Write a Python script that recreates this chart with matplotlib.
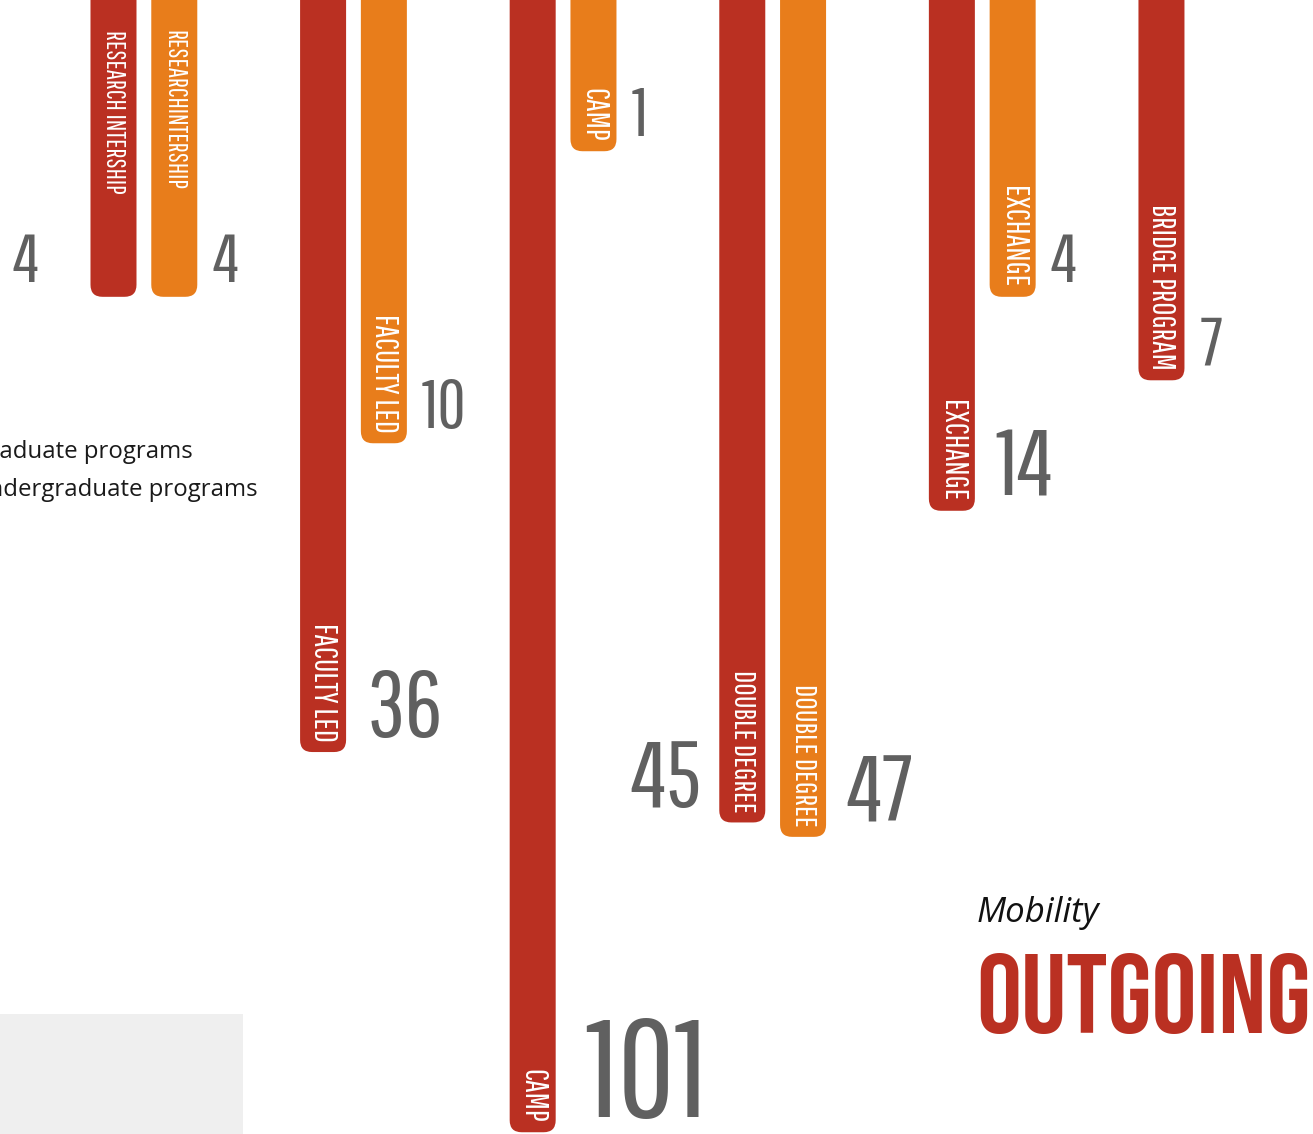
import numpy as np
import matplotlib
matplotlib.use("Agg")
import matplotlib.pyplot as plt
from matplotlib import font_manager as fm
from matplotlib.patches import FancyBboxPatch, Rectangle
from matplotlib.transforms import IdentityTransform

# ---- data -------------------------------------------------------------
programs = ["RESEARCH INTERSHIP", "FACULTY LED", "CAMP",
            "DOUBLE DEGREE", "EXCHANGE", "BRIDGE PROGRAM"]
graduate_labels = ["RESEARCH INTERSHIP", "FACULTY LED", "CAMP",
                   "DOUBLE DEGREE", "EXCHANGE", "BRIDGE PROGRAM"]
undergraduate_labels = ["RESEARCHINTERSHIP", "FACULTY LED", "CAMP",
                        "DOUBLE DEGREE", "EXCHANGE", None]
graduate = [4, 36, 101, 45, 14, 7]
undergraduate = [4, 10, 1, 47, 4, None]
legend_labels = ["Graduate programs", "Undergraduate programs"]

# ---- style ------------------------------------------------------------
RED = "#BA3022"
ORANGE = "#E87D1B"
GREY = "#606060"

available = {f.name for f in fm.fontManager.ttflist}


def pick(*names):
    for n in names:
        if n in available:
            return n
    return "DejaVu Sans"


THIN = pick("Pathway Gothic One", "League Gothic", "Oswald", "Antonio",
            "Roboto Condensed", "Liberation Sans Narrow")
HEAVY = pick("Bebas Neue", "Oswald", "League Gothic", "Anton",
             "Roboto Condensed", "Liberation Sans Narrow")
BODY = pick("Open Sans", "Noto Sans", "DejaVu Sans")

W, H, DPI = 1313, 1134, 100
fig = plt.figure(figsize=(W / DPI, H / DPI), dpi=DPI)
ax = fig.add_axes([0, 0, 1, 1])
ax.set_axis_off()

# bars hang from the top; a compressive power scale keeps the 101 bar in view
POWER = 0.37
ax.set_yscale("function",
              functions=(lambda v: np.sign(v) * np.abs(v) ** POWER,
                         lambda u: np.sign(u) * np.abs(u) ** (1 / POWER)))
ax.set_ylim(101.4, 0.04)
ax.set_xlim(-0.5415, 5.723)

BAR_W = 0.2195        # bar width in group units
ORANGE_SHIFT = 0.29   # undergraduate bar sits right of graduate bar
RADIUS = 12
LABEL_SIZE = {"RESEARCH INTERSHIP": 18.5, "RESEARCHINTERSHIP": 18.5,
              "DOUBLE DEGREE": 21.8}
TOP_ANCHORED = {"RESEARCH INTERSHIP", "RESEARCHINTERSHIP"}


def number_size(v):
    if v >= 100:
        return 100
    if v >= 14:
        return 68
    return 50


def draw_bar(xc, value, color, label, number_side, side_gap=None):
    x0, y_end = ax.transData.transform((xc - BAR_W / 2, value))
    x1, y_top = ax.transData.transform((xc + BAR_W / 2, 0.0))
    patch = FancyBboxPatch((x0, y_end), x1 - x0, (y_top - y_end) + 200,
                           boxstyle=f"round,pad=0,rounding_size={RADIUS}",
                           transform=IdentityTransform(),
                           fc=color, ec="none", zorder=2)
    ax.add_artist(patch)
    if label:
        fs = LABEL_SIZE.get(label, 23)
        if label in TOP_ANCHORED:
            ax.annotate(label, (xc, 1.0), xycoords=("data", "axes fraction"),
                        xytext=(0, -30), textcoords="offset pixels",
                        rotation=-90, ha="center", va="top", color="white",
                        fontsize=fs, family=THIN, zorder=3)
        else:
            ax.annotate(label, (xc, value), xytext=(0, 10),
                        textcoords="offset pixels", rotation=-90,
                        ha="center", va="bottom", color="white",
                        fontsize=fs, family=THIN, zorder=3)
    size = number_size(value)
    gap = 0.3 * size if side_gap is None else side_gap
    if number_side == "right":
        dx, ha = (x1 - x0) / 2 + gap, "left"
    else:
        dx, ha = -(x1 - x0) / 2 - gap, "right"
    ax.annotate(str(value), (xc, value), xytext=(dx, 15),
                textcoords="offset pixels", ha=ha, va="baseline",
                color=GREY, fontsize=size, family=THIN, zorder=3)


left_number_gap = {0: 52, 3: 18}
for i, prog in enumerate(programs):
    side = "left" if i in left_number_gap else "right"
    draw_bar(i, graduate[i], RED, graduate_labels[i], side,
             left_number_gap.get(i))
    if undergraduate[i] is not None:
        draw_bar(i + ORANGE_SHIFT, undergraduate[i], ORANGE,
                 undergraduate_labels[i], "right")

# legend text (its left part runs off the page)
fig.text(193 / W, 1 - 458 / H, legend_labels[0], ha="right",
         va="baseline", fontsize=17.3, family=BODY, color="#1a1a1a")
fig.text(258 / W, 1 - 496 / H, legend_labels[1], ha="right",
         va="baseline", fontsize=17.3, family=BODY, color="#1a1a1a")

# grey panel in the lower-left corner
fig.add_artist(Rectangle((0, 0), 243 / W, (H - 1014) / H,
                         transform=fig.transFigure, fc="#EFEFEF",
                         ec="none", zorder=0))

# title block
fig.text(977 / W, 1 - 922 / H, "Mobility", ha="left", va="baseline",
         fontsize=25, style="italic", family=BODY, color="#111111")
title = fig.text(976 / W, 1 - 1033 / H, "OUTGOING", ha="left",
                 va="baseline", fontsize=94, family=HEAVY, color=RED)
# shrink the heading so it spans the block width
fig.canvas.draw()
tw = title.get_window_extent().width
title.set_fontsize(94 * 334 / tw)

fig.savefig("out.png", dpi=DPI)
